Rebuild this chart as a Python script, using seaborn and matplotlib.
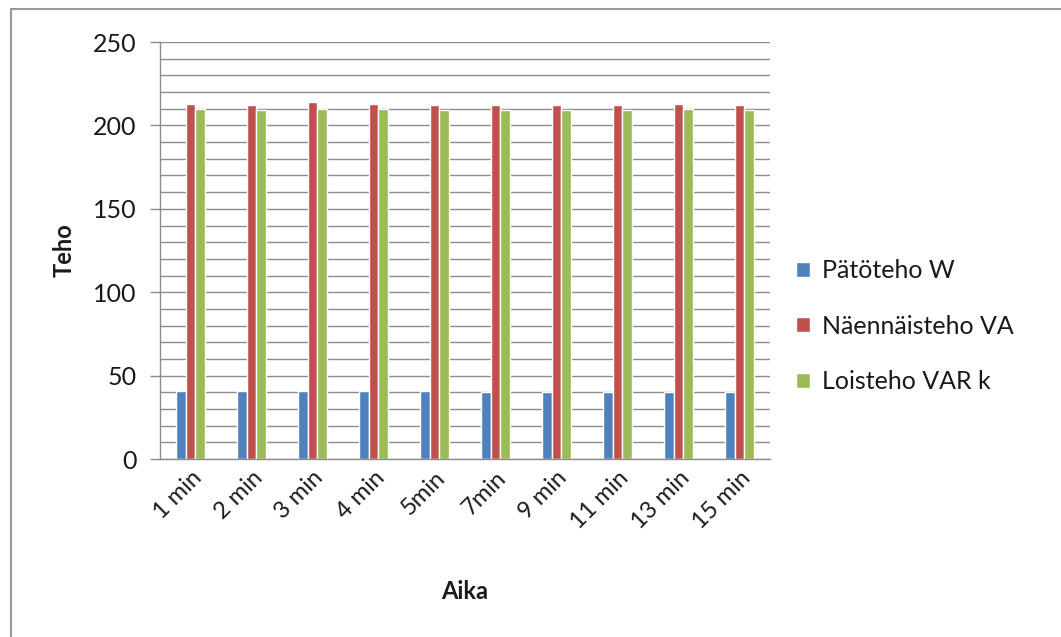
import matplotlib
matplotlib.use("Agg")
import matplotlib.pyplot as plt
from matplotlib.patches import Rectangle
import numpy as np
import pandas as pd
import seaborn as sns

# Measured power at each time point
aika = ["1 min", "2 min", "3 min", "4 min", "5min", "7min", "9 min", "11 min", "13 min", "15 min"]
patoteho_w = [41, 41, 41, 41, 41, 40, 40, 40, 40, 40]
naennaisteho_va = [213, 212.5, 214, 213, 212.5, 212, 212, 212.5, 213, 212.5]
loisteho_var = [210, 209.5, 210, 210, 209.5, 209, 209, 209.5, 210, 209.5]

series_names = ["Pätöteho W", "Näennäisteho VA", "Loisteho VAR k"]
colors = ["#4F81BD", "#C0504D", "#9BBB59"]

df = pd.DataFrame({
    "Aika": aika * 3,
    "Teho": patoteho_w + naennaisteho_va + loisteho_var,
    "Sarja": [series_names[0]] * len(aika) + [series_names[1]] * len(aika) + [series_names[2]] * len(aika),
})

sns.set_theme(style="white")
plt.rcParams["font.family"] = ["Lato", "DejaVu Sans"]

fig = plt.figure(figsize=(10.61, 6.37), dpi=100)
ax = fig.add_axes([0.1508, 0.2794, 0.5749, 0.6546])

sns.barplot(data=df, x="Aika", y="Teho", hue="Sarja", order=aika,
            hue_order=series_names, palette=colors, saturation=1,
            width=0.48, ax=ax, errorbar=None)

ax.set_ylim(0, 250)
ax.set_yticks(np.arange(0, 251, 50))
ax.set_yticks(np.arange(0, 251, 10), minor=True)
ax.yaxis.grid(True, which="both", color="#8c8c8c", linewidth=1.0)
ax.set_axisbelow(True)
ax.set_xlim(-0.5, len(aika) - 0.5)

for side in ["top", "right"]:
    ax.spines[side].set_visible(False)
for side in ["left", "bottom"]:
    ax.spines[side].set_color("#8c8c8c")
    ax.spines[side].set_linewidth(1.0)

txt = "#1a1a1a"
ax.tick_params(axis="y", which="major", direction="out", length=7, width=1,
               color="#8c8c8c", labelsize=18, pad=10, labelcolor=txt, left=True)
ax.tick_params(axis="y", which="minor", length=0)
ax.tick_params(axis="x", length=0, labelsize=17, labelcolor=txt, pad=6)
plt.setp(ax.get_xticklabels(), rotation=45, ha="right", rotation_mode="anchor")

ax.set_xlabel("Aika", fontsize=17, fontweight="bold", color=txt, labelpad=34)
ax.set_ylabel("Teho", fontsize=17, fontweight="bold", color=txt, labelpad=12)

leg = ax.legend(loc="center left", bbox_to_anchor=(0.741, 0.488), bbox_transform=fig.transFigure,
                frameon=False, fontsize=18, handlelength=0.55, handleheight=0.55,
                handletextpad=0.5, labelspacing=1.3, borderaxespad=0)
for t in leg.get_texts():
    t.set_color(txt)

# outer chart frame
fig.patches.append(Rectangle((11 / 1061, -0.1), 1.2, 1 - 9 / 637 + 0.1,
                             transform=fig.transFigure, fill=False,
                             edgecolor="#9a9a9a", linewidth=1.5))

fig.savefig("out.png", dpi=100)
